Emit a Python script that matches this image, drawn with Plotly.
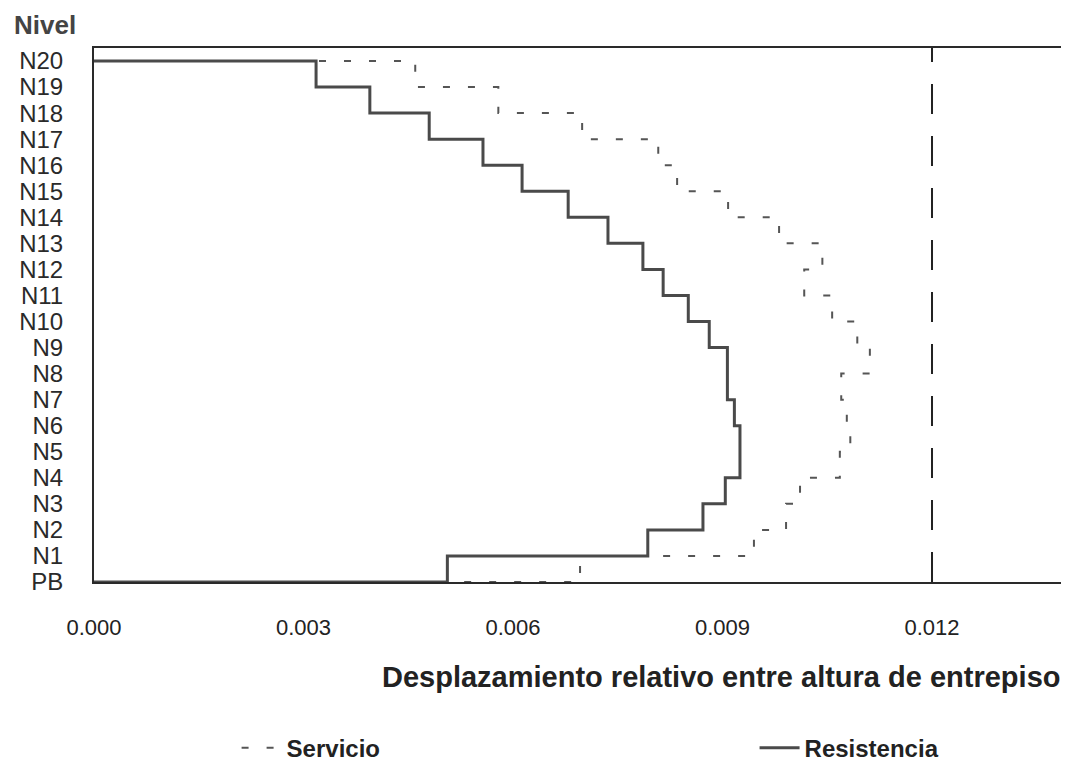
import plotly.graph_objects as go

# Levels (bottom to top)
levels = ["PB"] + [f"N{i}" for i in range(1, 21)]

# Inter-story drift per story 1..20 (story i lies between level i-1 and level i)
servicio = [0.00696, 0.00945, 0.00991, 0.01011, 0.01068, 0.01083, 0.01078, 0.01070,
            0.01111, 0.01093, 0.01057, 0.01017, 0.01043, 0.00981, 0.00908, 0.00835,
            0.00808, 0.00699, 0.00579, 0.00460]
resistencia = [0.00506, 0.00793, 0.00872, 0.00904, 0.00925, 0.00925, 0.00917, 0.00907,
               0.00907, 0.00881, 0.00851, 0.00815, 0.00786, 0.00736, 0.00679, 0.00613,
               0.00557, 0.00480, 0.00395, 0.00318]
limite = 0.012

x_ticks = [0.000, 0.003, 0.006, 0.009, 0.012]
x_ticklabels = ["0.000", "0.003", "0.006", "0.009", "0.012"]


def step_profile(drifts):
    n = len(drifts)
    xs = [0.0] + [drifts[i] for i in range(n - 1, -1, -1)] + [0.0]
    ys = [n] + list(range(n - 1, -1, -1)) + [0]
    return xs, ys


FONT = "Liberation Sans, Arial, sans-serif"

fig = go.Figure()

xs, ys = step_profile(servicio)
fig.add_trace(go.Scatter(x=xs, y=ys, mode="lines", name="Servicio", line_shape="hv",
                         legend="legend",
                         line=dict(color="#555555", width=2, dash="7px,18px")))

xr, yr = step_profile(resistencia)
fig.add_trace(go.Scatter(x=xr, y=yr, mode="lines", name="Resistencia", line_shape="hv",
                         legend="legend2",
                         line=dict(color="#4a4a4a", width=3)))

fig.add_trace(go.Scatter(x=[limite, limite], y=[0, len(levels) - 0.5], mode="lines",
                         showlegend=False, hoverinfo="skip",
                         line=dict(color="#222222", width=2, dash="30px,22px")))

legend_font = dict(size=24, family=FONT, color="#222222", weight="bold")

fig.update_layout(
    width=1061, height=761,
    margin=dict(l=86, r=5, t=40, b=187, autoexpand=False),
    paper_bgcolor="white", plot_bgcolor="white",
    font=dict(family=FONT, color="#222222"),
    xaxis=dict(range=[0, 0.01389], tickvals=x_ticks, ticktext=x_ticklabels,
               showgrid=False, zeroline=False, showline=True, mirror=True,
               linecolor="#2a2a2a", linewidth=2, ticks="", ticklabelstandoff=25,
               tickfont=dict(size=22, family=FONT, color="#222222")),
    yaxis=dict(range=[0, 20.5], tickvals=list(range(len(levels))), ticktext=levels,
               showgrid=False, zeroline=False, showline=True, mirror=True,
               linecolor="#2a2a2a", linewidth=2, ticks="", ticklabelstandoff=24,
               tickfont=dict(size=24, family=FONT, color="#2a2a2a")),
    showlegend=True,
    legend=dict(orientation="h", x=0.147, xanchor="left", y=-0.311, yanchor="middle",
                font=legend_font, itemwidth=40, bgcolor="rgba(0,0,0,0)"),
    legend2=dict(orientation="h", x=0.681, xanchor="left", y=-0.311, yanchor="middle",
                 font=legend_font, itemwidth=40, bgcolor="rgba(0,0,0,0)"),
    annotations=[
        dict(text="Nivel", xref="paper", yref="paper", x=-0.0845, y=1.0749,
             xanchor="left", yanchor="top", showarrow=False,
             font=dict(size=26, family=FONT, color="#444444", weight="bold")),
        dict(text="Desplazamiento relativo entre altura de entrepiso", xref="paper",
             yref="paper", x=0.998, y=-0.178, xanchor="right", yanchor="middle",
             showarrow=False,
             font=dict(size=29, family=FONT, color="#222222", weight="bold")),
    ],
)

fig.write_html("out.html")
